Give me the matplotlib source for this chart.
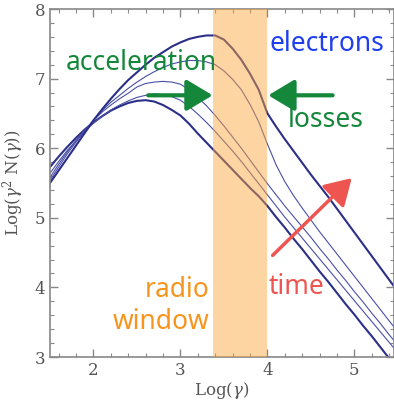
import numpy as np
import matplotlib
matplotlib.use("Agg")
import matplotlib.pyplot as plt
from matplotlib.patches import FancyArrowPatch
from matplotlib.ticker import MultipleLocator

plt.rcParams["mathtext.fontset"] = "dejavuserif"

# Log(gamma) sampling grid shared by all spectra
log_gamma = [1.5, 1.6, 1.7, 1.8, 1.9, 2.0, 2.1, 2.2, 2.3, 2.4,
             2.5, 2.6, 2.7, 2.8, 2.9, 3.0, 3.1, 3.2, 3.3, 3.4,
             3.5, 3.6, 3.7, 3.8, 3.9, 4.0, 4.1, 4.2, 4.3, 4.4,
             4.5, 4.6, 4.7, 4.8, 4.9, 5.0, 5.1, 5.2, 5.3, 5.4, 5.5]

# Log(gamma^2 N(gamma)) for the spectra, earliest to latest
spec_t0 = [5.73, 5.88, 6.02, 6.15, 6.27, 6.37, 6.46, 6.54, 6.60, 6.65,
           6.68, 6.69, 6.67, 6.62, 6.55, 6.47, 6.35, 6.21, 6.08, 5.95,
           5.82, 5.69, 5.56, 5.43, 5.31, 5.17, 5.01, 4.86, 4.70, 4.55,
           4.39, 4.23, 4.08, 3.92, 3.76, 3.61, 3.45, 3.30, 3.14, 2.98, 2.83]
spec_t1 = [5.64, 5.81, 5.97, 6.11, 6.24, 6.36, 6.46, 6.55, 6.62, 6.68,
           6.73, 6.76, 6.78, 6.77, 6.74, 6.69, 6.60, 6.49, 6.37, 6.24,
           6.10, 5.96, 5.81, 5.65, 5.49, 5.33, 5.17, 5.01, 4.86, 4.71,
           4.56, 4.41, 4.26, 4.11, 3.96, 3.81, 3.66, 3.51, 3.36, 3.21, 3.06]
spec_t2 = [5.58, 5.77, 5.95, 6.11, 6.26, 6.40, 6.52, 6.62, 6.71, 6.79,
           6.88, 6.93, 6.95, 6.96, 6.95, 6.92, 6.84, 6.73, 6.61, 6.47,
           6.32, 6.16, 6.00, 5.83, 5.66, 5.49, 5.33, 5.17, 5.02, 4.87,
           4.72, 4.56, 4.41, 4.25, 4.10, 3.94, 3.79, 3.63, 3.48, 3.32, 3.17]
spec_t3 = [5.54, 5.73, 5.92, 6.09, 6.25, 6.40, 6.54, 6.66, 6.76, 6.86,
           6.95, 7.03, 7.10, 7.16, 7.21, 7.24, 7.26, 7.26, 7.24, 7.20,
           7.11, 6.99, 6.84, 6.63, 6.38, 6.06, 5.76, 5.52, 5.32, 5.14,
           4.97, 4.80, 4.64, 4.48, 4.32, 4.16, 4.00, 3.84, 3.68, 3.52, 3.36]
spec_t4 = [5.50, 5.68, 5.86, 6.04, 6.22, 6.40, 6.56, 6.71, 6.85, 6.98,
           7.09, 7.20, 7.30, 7.38, 7.46, 7.52, 7.57, 7.60, 7.62, 7.62,
           7.56, 7.43, 7.27, 7.07, 6.84, 6.50, 6.31, 6.13, 5.96, 5.79,
           5.62, 5.46, 5.30, 5.13, 4.96, 4.79, 4.62, 4.45, 4.28, 4.11, 3.94]

spectra = [spec_t0, spec_t1, spec_t2, spec_t3, spec_t4]
line_widths = [1.5, 0.8, 0.8, 0.8, 1.5]

radio_window = (3.38, 4.0)

navy = "#2b2f86"
thin_blue = "#4a4fa6"
green = "#14873a"
red = "#ee5550"
orange = "#f7941d"
blue = "#1f3fee"
grey = "#555555"

fig = plt.figure(figsize=(3.94, 4.03), dpi=100)
ax = fig.add_axes([50 / 394, 1 - 357 / 403, 343.5 / 394, 348 / 403])

for spec, lw in zip(spectra, line_widths):
    color = navy if lw > 1 else thin_blue
    ax.plot(log_gamma, spec, color=color, lw=lw, zorder=2)

# radio band drawn over the curves so they show through tinted
ax.axvspan(radio_window[0], radio_window[1], color="#fca63c", alpha=0.47,
           lw=0, zorder=3)

ax.set_xlim(1.5, 5.45)
ax.set_ylim(3, 8)

ax.xaxis.set_major_locator(MultipleLocator(1))
ax.xaxis.set_minor_locator(MultipleLocator(0.2))
ax.yaxis.set_major_locator(MultipleLocator(1))
ax.yaxis.set_minor_locator(MultipleLocator(0.2))
ax.tick_params(which="both", direction="in", top=True, right=True,
               color="#888888", labelcolor=grey, labelsize=12)
ax.tick_params(which="major", length=6, width=1)
ax.tick_params(which="minor", length=3, width=0.8)
for lab in ax.get_xticklabels() + ax.get_yticklabels():
    lab.set_family("DejaVu Serif")
for sp in ax.spines.values():
    sp.set_color("#888888")
    sp.set_linewidth(1.2)

ax.set_xlabel(r"Log($\gamma$)", family="DejaVu Serif", fontsize=12,
              color=grey, labelpad=1)
ax.set_ylabel(r"Log($\gamma^2$ N($\gamma$))", family="DejaVu Serif",
              fontsize=12, color=grey, labelpad=6)

hand = dict(family="Noto Sans", fontsize=19, zorder=5)
ax.text(2.55, 7.23, "acceleration", color=green, ha="center", va="center", **hand)
ax.text(4.68, 7.50, "electrons", color=blue, ha="center", va="center", **hand)
ax.text(4.67, 6.40, "losses", color=green, ha="center", va="center", **hand)
ax.text(3.33, 3.96, "radio", color=orange, ha="right", va="center", **hand)
ax.text(3.33, 3.50, "window", color=orange, ha="right", va="center", **hand)
ax.text(4.34, 4.00, "time", color=red, ha="center", va="center", **hand)

arrow_style = "-|>,head_length=1.0,head_width=0.6"
for start, end, col, lw in [((2.63, 6.76), (3.37, 6.76), green, 3),
                            ((4.75, 6.76), (4.01, 6.76), green, 3),
                            ((4.06, 4.46), (4.97, 5.57), red, 2.5)]:
    ax.add_patch(FancyArrowPatch(start, end, arrowstyle=arrow_style,
                                 mutation_scale=16, lw=lw, color=col,
                                 shrinkA=0, shrinkB=0, zorder=6))

fig.savefig("out.png", dpi=100)
